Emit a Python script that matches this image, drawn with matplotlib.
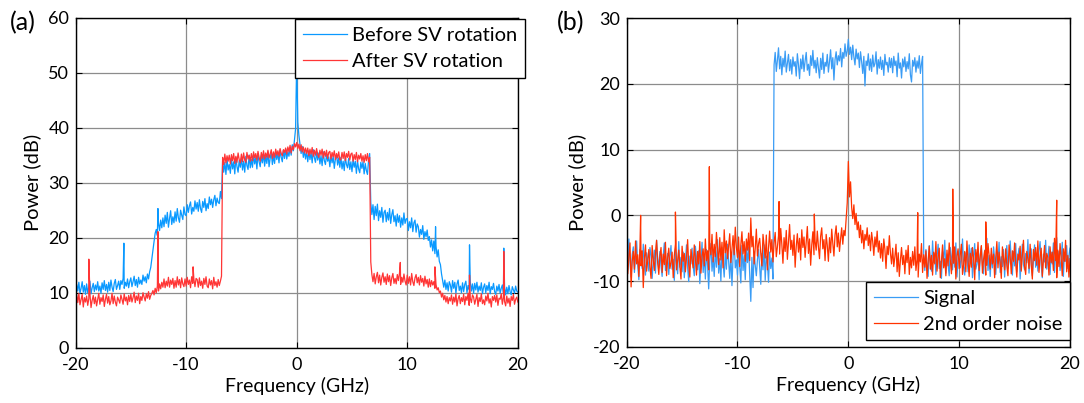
import numpy as np
import matplotlib
matplotlib.use("Agg")
import matplotlib.pyplot as plt

plt.rcParams["font.family"] = ["Lato", "DejaVu Sans"]
plt.rcParams["axes.unicode_minus"] = False

# Frequency grid of the measured spectra (GHz), 0.1 GHz resolution
freq = np.linspace(-20, 20, 401)

# (a) Received spectrum before / after Stokes-vector rotation (dB),
# one row per GHz
before_sv = [
    9.6, 11.5, 10.3, 11.9, 9.9, 10.8, 12.0, 10.1, 11.3, 9.7,
    11.6, 10.0, 11.1, 12.1, 9.8, 10.9, 11.7, 10.2, 11.4, 10.5,
    12.0, 10.3, 11.2, 9.9, 11.8, 10.6, 12.2, 10.4, 11.5, 10.1,
    11.9, 10.4, 12.3, 11.0, 10.2, 11.7, 12.4, 10.6, 11.3, 12.1,
    10.6, 12.2, 11.5, 12.6, 10.8, 11.9, 11.2, 12.5, 10.9, 12.0,
    12.7, 11.1, 12.0, 13.0, 11.3, 12.4, 11.0, 12.8, 11.6, 12.3,
    11.5, 13.2, 12.1, 12.9, 11.8, 13.4, 12.5, 13.8, 14.6, 16.2,
    17.9, 19.3, 20.8, 21.5, 20.4, 22.7, 21.3, 23.2, 21.8, 23.6,
    22.0, 24.1, 22.6, 24.6, 21.9, 23.5, 24.9, 22.4, 23.8, 22.7,
    24.7, 23.0, 25.3, 23.6, 22.8, 25.0, 24.1, 23.3, 25.6, 24.2,
    24.0, 26.0, 24.6, 25.8, 26.5, 24.3, 25.5, 24.8, 26.7, 25.2,
    26.4, 24.8, 26.9, 25.3, 24.6, 26.6, 25.5, 27.1, 24.9, 26.2,
    25.3, 27.4, 26.0, 27.0, 25.5, 26.9, 27.7, 25.8, 27.2, 26.4,
    26.2, 28.4, 27.1, 34.0, 31.9, 33.7, 31.5, 34.4, 32.3, 33.3,
    31.7, 34.3, 32.5, 33.8, 31.6, 34.6, 32.9, 31.9, 34.0, 32.8,
    34.5, 32.3, 33.9, 31.9, 34.8, 33.1, 32.4, 35.0, 32.7, 34.2,
    32.8, 35.1, 33.4, 34.6, 32.5, 35.3, 33.8, 32.9, 34.9, 33.6,
    35.3, 33.0, 34.8, 33.5, 35.6, 32.9, 34.4, 35.5, 33.3, 34.9,
    33.5, 35.7, 34.2, 35.4, 33.6, 36.0, 34.6, 33.8, 35.9, 34.4,
    36.1, 34.3, 35.6, 34.8, 36.4, 35.0, 36.9, 35.8, 37.9, 39.8,
    52.3, 41.0, 38.6, 36.9, 35.3, 36.6, 34.6, 35.9, 34.3, 35.7,
    33.8, 35.8, 34.2, 35.5, 33.6, 36.0, 34.5, 33.7, 35.6, 34.1,
    35.4, 33.4, 34.9, 33.1, 35.6, 34.0, 33.3, 35.2, 33.9, 34.7,
    32.9, 35.0, 33.6, 34.8, 32.6, 34.3, 35.1, 33.2, 34.5, 32.8,
    34.6, 32.5, 33.9, 32.2, 34.7, 33.3, 32.7, 34.4, 32.4, 33.8,
    32.0, 34.2, 32.8, 33.9, 31.7, 34.0, 32.5, 31.8, 33.7, 32.6,
    33.8, 31.6, 33.5, 32.2, 31.5, 34.0, 35.3, 26.4, 24.2, 26.0,
    23.3, 25.7, 24.0, 26.1, 23.1, 24.9, 23.7, 25.5, 22.8, 24.6,
    25.0, 22.9, 24.6, 23.2, 25.3, 22.6, 24.2, 25.1, 22.9, 24.0,
    22.1, 24.3, 22.8, 24.0, 21.9, 23.6, 22.3, 24.5, 22.6, 23.4,
    23.5, 21.3, 22.9, 21.8, 23.6, 21.1, 22.7, 23.2, 21.0, 22.5,
    22.0, 20.1, 21.5, 20.6, 22.2, 19.7, 21.1, 20.2, 21.4, 19.5,
    20.2, 18.3, 19.6, 17.6, 19.4, 17.1, 18.5, 16.5, 17.8, 15.7,
    15.1, 13.4, 12.2, 11.0, 12.3, 10.6, 11.8, 10.3, 12.0, 11.4,
    10.1, 12.2, 10.8, 11.9, 9.9, 11.6, 12.3, 10.4, 11.2, 10.0,
    11.8, 10.2, 11.5, 12.1, 10.0, 11.3, 10.6, 12.0, 10.3, 11.6,
    9.9, 11.7, 10.5, 11.9, 10.1, 11.2, 10.4, 11.8, 9.8, 11.0,
    11.6, 10.0, 11.3, 10.4, 11.9, 9.8, 11.1, 10.6, 11.7, 10.2,
    9.7, 11.2, 10.3, 11.5, 9.9, 10.8, 11.4, 10.0, 11.1, 9.6,
    11.0, 9.8, 11.3, 10.2, 9.6, 11.1, 10.5, 9.9, 11.2, 10.3,
    10.1,
]
after_sv = [
    7.5, 9.6, 8.2, 9.9, 7.8, 8.8, 9.7, 7.4, 9.1, 8.3,
    9.4, 7.7, 8.9, 9.8, 7.3, 8.6, 9.5, 8.0, 9.2, 7.6,
    8.7, 9.9, 7.9, 9.1, 8.4, 9.6, 7.5, 8.8, 9.7, 8.1,
    9.3, 7.8, 8.5, 9.9, 8.0, 9.4, 8.3, 7.6, 9.2, 8.7,
    8.1, 9.6, 8.8, 7.9, 9.8, 8.5, 9.2, 7.8, 9.5, 8.4,
    9.7, 8.3, 9.1, 10.1, 8.2, 9.4, 8.6, 9.9, 8.0, 9.3,
    8.6, 10.0, 9.2, 8.5, 9.8, 9.0, 10.2, 8.8, 9.5, 9.9,
    10.4, 9.6, 10.8, 10.0, 11.2, 10.3, 11.6, 10.7, 11.9, 11.0,
    12.5, 10.9, 12.1, 11.2, 12.8, 11.0, 12.3, 11.5, 12.6, 10.8,
    12.2, 11.0, 12.9, 11.4, 12.4, 10.9, 12.7, 11.6, 11.1, 12.5,
    11.2, 12.8, 11.5, 12.3, 10.9, 12.9, 11.7, 12.5, 11.1, 12.6,
    12.4, 11.0, 12.7, 11.3, 12.1, 10.8, 12.6, 11.5, 12.9, 11.2,
    10.9, 12.5, 11.4, 12.2, 10.7, 12.8, 11.3, 12.0, 11.0, 12.4,
    11.3, 12.1, 13.0, 34.6, 33.3, 35.2, 33.6, 34.9, 33.9, 35.0,
    33.4, 35.1, 34.0, 35.3, 33.5, 34.8, 33.7, 35.4, 34.2, 33.6,
    35.2, 33.8, 35.4, 34.1, 33.7, 35.5, 34.3, 35.0, 33.9, 35.3,
    34.0, 35.6, 34.5, 35.3, 34.1, 35.7, 34.6, 33.9, 35.5, 34.4,
    35.8, 34.3, 35.4, 34.6, 35.9, 34.5, 35.2, 36.0, 34.4, 35.6,
    34.6, 36.1, 35.0, 35.8, 34.8, 36.2, 35.3, 34.9, 36.0, 35.5,
    36.3, 35.2, 36.5, 35.6, 36.8, 35.4, 36.6, 36.0, 37.1, 36.5,
    37.3, 36.2, 37.0, 35.8, 36.9, 35.6, 36.5, 35.4, 36.3, 35.3,
    36.3, 34.9, 36.1, 35.2, 36.4, 34.8, 35.9, 35.0, 36.2, 35.1,
    34.6, 35.9, 35.0, 36.1, 34.5, 35.7, 34.8, 35.9, 34.4, 35.5,
    35.7, 34.3, 35.5, 34.7, 35.8, 34.2, 35.3, 34.5, 35.6, 34.1,
    34.2, 35.5, 34.4, 35.6, 34.0, 35.3, 34.6, 35.7, 34.1, 35.2,
    35.4, 33.9, 35.1, 34.2, 35.5, 33.8, 35.0, 34.3, 35.3, 33.9,
    34.9, 33.7, 35.1, 34.0, 35.3, 33.8, 34.6, 15.6, 13.3, 12.0,
    13.5, 11.6, 12.9, 13.7, 11.8, 13.2, 11.4, 12.8, 13.6, 11.9,
    12.9, 11.5, 13.4, 12.0, 13.1, 11.3, 12.7, 13.5, 11.7, 12.6,
    11.6, 13.3, 12.2, 13.6, 11.5, 12.8, 11.9, 13.4, 12.1, 11.4,
    13.2, 11.7, 12.9, 11.4, 13.5, 12.0, 11.3, 12.7, 13.3, 11.8,
    12.8, 11.4, 13.1, 11.9, 12.6, 11.2, 13.0, 11.6, 12.4, 11.0,
    12.5, 11.1, 12.2, 11.4, 12.0, 10.8, 11.5, 10.5, 10.9, 10.0,
    10.3, 9.2, 9.9, 8.7, 9.5, 8.3, 9.3, 8.0, 9.1, 8.5,
    9.6, 7.9, 9.2, 8.3, 9.8, 7.6, 8.9, 9.5, 8.0, 9.1,
    8.4, 9.7, 7.8, 9.3, 8.6, 9.9, 7.7, 9.0, 8.2, 9.6,
    9.2, 7.9, 8.8, 9.7, 7.5, 9.1, 8.4, 9.8, 8.0, 8.7,
    7.8, 9.4, 8.5, 9.9, 8.1, 8.9, 7.4, 9.3, 8.6, 9.5,
    8.3, 9.6, 7.7, 9.0, 8.8, 9.8, 7.9, 9.2, 8.4, 7.6,
    9.4, 8.1, 9.0, 7.5, 9.3, 8.6, 9.7, 7.9, 8.8, 9.2,
    8.3,
]
# Narrow spurs (GHz, dB)
before_spur_f = [-15.63, -12.55, 12.56, 15.63, 18.73]
before_spur_db = [19.0, 25.3, 22.0, 18.7, 18.1]
after_spur_f = [-18.8, -12.55, -9.37, 9.37, 12.5, 15.63, 18.73]
after_spur_db = [16.1, 21.1, 14.7, 15.5, 14.7, 13.2, 17.5]

# (b) Signal and second-order noise (dB), one row per GHz
signal = [
    -5.9, -8.3, -3.6, -7.1, -9.4, -6.0, -4.8, -8.7, -6.5, -3.9,
    -7.6, -9.8, -5.2, -6.8, -8.1, -4.4, -7.3, -9.1, -5.7, -6.9,
    -8.5, -4.9, -6.2, -9.6, -7.0, -5.3, -8.8, -3.8, -6.6, -8.0,
    -5.5, -7.7, -9.3, -6.1, -4.2, -8.4, -7.2, -5.8, -9.0, -6.3,
    -4.6, -8.2, -6.7, -9.9, -5.1, -7.5, -8.9, -4.0, -7.9, -6.4,
    -8.6, -5.6, -9.5, -6.9, -4.5, -8.0, -10.1, -6.2, -7.4, -5.0,
    -7.8, -9.2, -4.7, -6.5, -8.3, -5.4, -10.4, -7.1, -4.1, -8.7,
    -6.0, -9.7, -5.2, -7.6, -11.2, -6.8, -4.3, -8.5, -6.4, -9.3,
    -5.1, -7.9, -3.7, -8.8, -6.6, -10.0, -4.9, -7.3, -9.4, -5.7,
    -8.2, -4.4, -7.0, -9.6, -5.9, -10.7, -6.3, -3.9, -8.0, -6.8,
    -9.1, -5.3, -7.7, -10.3, -4.6, -8.4, -6.1, -9.8, -5.0, -7.2,
    -4.8, -8.9, -13.1, -6.4, -11.0, -5.5, -7.6, -9.2, -6.7, -5.2,
    -7.9, -10.5, -5.8, -8.3, -4.5, -9.9, -6.2, -7.4, -10.2, -5.6,
    -8.1, -6.5, -9.7, 22.9, 24.8, 21.9, 23.6, 25.5, 22.3, 24.2,
    21.4, 23.9, 22.6, 25.0, 21.8, 23.2, 24.5, 22.0, 23.7, 21.5,
    24.1, 22.7, 23.4, 21.2, 24.6, 22.9, 20.8, 23.8, 22.3, 24.4,
    21.9, 23.5, 24.8, 22.1, 23.0, 21.3, 24.3, 22.8, 25.1, 22.4,
    23.6, 21.7, 24.0, 22.5, 20.9, 23.9, 22.2, 24.7, 21.6, 23.3,
    22.7, 24.5, 21.8, 23.4, 25.2, 22.3, 24.0, 20.6, 23.7, 24.9,
    22.9, 24.3, 23.5, 25.4, 22.6, 24.8, 23.9, 26.1, 24.2, 25.0,
    26.8, 24.5, 25.6, 23.7, 25.9, 24.1, 22.9, 25.3, 23.8, 24.7,
    22.5, 24.9, 23.4, 21.6, 24.2, 19.7, 23.5, 22.8, 24.6, 22.1,
    23.8, 21.9, 24.4, 22.6, 23.1, 24.9, 21.5, 23.7, 22.4, 24.1,
    22.2, 23.6, 21.3, 24.5, 22.9, 23.3, 21.8, 24.0, 22.5, 23.9,
    21.7, 24.2, 22.8, 23.5, 21.1, 24.7, 22.4, 23.2, 20.9, 23.8,
    22.6, 24.1, 21.9, 23.4, 22.3, 24.6, 21.4, 20.3, 23.6, 22.7,
    24.0, 21.8, 23.5, 22.4, 24.3, 21.6, 23.1, 24.2, -6.1, -8.4,
    -5.2, -7.8, -9.3, -4.6, -6.9, -8.5, -3.9, -7.2, -5.8, -9.0,
    -6.3, -4.4, -8.1, -7.0, -9.6, -5.5, -6.7, -3.8, -8.8, -5.9,
    -7.5, -9.2, -4.9, -6.4, -8.3, -5.1, -7.9, -4.2, -9.4, -6.6,
    -5.4, -8.0, -6.8, -3.6, -7.7, -9.1, -5.7, -6.2, -8.6, -4.5,
    -7.1, -5.0, -9.5, -6.5, -4.3, -8.2, -7.4, -5.6, -9.8, -6.0,
    -4.7, -7.6, -8.9, -5.3, -6.9, -3.5, -8.4, -6.1, -9.3, -5.9,
    -8.0, -4.8, -6.6, -9.0, -5.4, -7.3, -4.1, -8.7, -6.3, -7.8,
    -5.2, -9.4, -6.0, -4.6, -8.1, -7.0, -3.9, -6.8, -9.1, -5.5,
    -7.7, -4.3, -8.6, -6.2, -5.0, -9.7, -6.9, -4.4, -7.5, -8.3,
    -5.8, -7.2, -3.7, -8.8, -6.4, -5.1, -9.2, -6.7, -4.5, -7.9,
    -6.1, -8.5, -5.3, -4.0, -7.6, -9.5, -5.9, -7.1, -3.8, -8.2,
    -6.6, -4.7, -9.0, -5.6, -7.4, -4.2, -8.7, -6.0, -3.4, -7.3,
    -5.5, -8.4, -6.9, -4.1, -9.3, -5.8, -7.0, -4.6, -8.1, -6.2,
    -5.0,
]
noise2 = [
    -5.1, -8.9, -6.3, -4.2, -10.9, -7.0, -5.5, -8.2, -3.9, -7.4,
    -6.0, -9.3, -4.8, -7.7, -5.4, -11.0, -6.6, -4.5, -8.5, -6.9,
    -5.2, -7.9, -9.6, -4.6, -6.8, -8.4, -5.7, -3.8, -7.3, -9.0,
    -6.2, -4.9, -8.7, -5.9, -7.5, -4.1, -9.2, -6.5, -5.0, -8.1,
    -7.2, -5.6, -9.5, -6.1, -4.4, -8.3, -6.9, -5.3, -7.8, -9.7,
    -4.7, -7.0, -5.8, -8.6, -6.4, -3.7, -7.6, -9.4, -5.2, -6.7,
    -8.0, -4.5, -6.6, -9.1, -5.5, -7.4, -4.0, -8.8, -6.2, -5.1,
    -7.7, -3.6, -6.9, -5.4, -8.3, -4.8, -6.0, -2.9, -7.1, -4.4,
    -6.3, -2.6, -5.0, -7.5, -3.4, -6.8, -4.1, -8.0, -2.2, -5.7,
    -3.9, -6.6, -4.7, -2.8, -7.2, -5.1, -3.1, -6.0, -1.8, -4.9,
    -6.4, -3.3, -7.8, -4.5, -2.5, -5.9, -4.0, -7.0, -3.6, -5.3,
    -2.7, -6.9, -0.4, -4.8, -3.2, -7.4, -5.0, -2.1, -6.2, -4.3,
    -3.5, -5.8, -7.7, -2.9, -4.6, -6.5, -3.0, -8.3, -4.9, -2.4,
    -5.6, -3.7, -7.1, -4.2, -2.6, -6.3, -4.8, -3.1, -5.9, -2.0,
    -4.4, -7.3, -3.4, -5.5, -2.3, -6.7, -4.0, -1.4, -5.2, -3.8,
    -6.1, -3.0, -7.9, -4.7, -2.8, -5.6, -3.5, -6.8, -2.2, -4.9,
    -3.3, -6.4, -4.1, -1.7, -5.8, -3.6, -7.6, -4.5, -2.5, -6.0,
    -3.9, -5.3, -2.4, -4.8, -6.6, -3.2, -1.9, -5.1, -3.7, -6.9,
    -2.9, -4.6, -7.0, -3.4, -5.7, -2.1, -4.3, -6.2, -3.0, -1.6,
    -4.8, -2.7, -5.5, -3.6, -1.9, -4.4, -2.3, -3.1, -0.6, 1.9,
    8.2, 2.8, 5.1, 1.2, -0.5, 1.6, -1.4, 0.3, -2.2, -1.0,
    -3.4, -1.5, -4.2, -2.3, -5.1, -2.9, -3.8, -1.9, -4.6, -3.0,
    -5.4, -2.6, -4.0, -6.1, -3.3, -4.8, -2.4, -5.6, -3.9, -6.5,
    -4.3, -7.0, -3.6, -5.2, -8.1, -4.7, -6.0, -3.1, -5.8, -7.4,
    -5.0, -7.8, -6.3, -4.4, -8.6, -5.7, -9.3, -6.8, -4.9, -7.5,
    -6.1, -8.9, -5.3, -7.2, -4.6, -9.0, -6.4, -8.0, -5.5, -7.6,
    -4.8, -8.4, -6.7, -9.4, -5.9, -7.1, -4.3, -8.7, -6.0, -7.9,
    -5.4, -9.6, -6.9, -4.7, -8.2, -6.1, -9.1, -5.6, -7.4, -4.0,
    -8.5, -6.3, -5.0, -9.5, -7.0, -4.5, -8.0, -6.6, -9.2, -5.3,
    -7.7, -4.2, -6.8, -8.9, -5.7, -7.3, -4.8, -9.7, -6.2, -5.1,
    -8.1, -6.0, -4.4, -9.0, -7.5, -5.5, -8.6, -3.9, -6.9, -9.3,
    -5.8, -7.9, -4.9, -6.5, -9.8, -5.2, -7.1, -4.1, -8.4, -6.3,
    -4.6, -8.8, -6.7, -5.4, -9.1, -7.6, -4.3, -6.1, -8.2, -5.0,
    -7.4, -5.9, -9.5, -6.4, -4.0, -8.0, -5.6, -7.2, -9.6, -4.8,
    -6.6, -8.3, -5.1, -7.7, -9.2, -4.5, -6.2, -8.9, -5.4, -7.0,
    -4.2, -7.3, -9.4, -5.9, -6.8, -4.7, -8.5, -6.0, -3.8, -7.8,
    -9.0, -5.5, -6.6, -8.1, -4.4, -7.5, -9.7, -5.2, -6.9, -4.9,
    -7.6, -3.9, -8.7, -6.3, -5.0, -9.3, -6.7, -4.6, -8.0, -5.8,
    -6.4, -9.1, -4.8, -7.2, -5.6, -8.4, -3.5, -6.9, -9.5, -5.3,
    -7.8, -4.3, -6.5, -9.2, -5.1, -7.0, -3.8, -8.6, -6.1, -9.4,
    -6.6,
]
noise2_spur_f = [-18.74, -15.6, -12.54, -6.25, -3.07, 6.26, 9.42, 12.4, 18.8]
noise2_spur_db = [0.0, 0.5, 7.4, 2.1, 0.2, 0.4, 4.0, -1.0, 2.3]

x_ticks = [-20, -10, 0, 10, 20]
a_yticks = [0, 10, 20, 30, 40, 50, 60]
b_yticks = [-20, -10, 0, 10, 20, 30]


def with_spurs(f, v, sf=(), sv=()):
    f = np.asarray(f, float)
    v = np.asarray(v, float)
    assert len(f) == len(v), (len(f), len(v))
    x = np.concatenate([f, np.asarray(sf, float)])
    y = np.concatenate([v, np.asarray(sv, float)])
    order = np.argsort(x, kind="stable")
    return x[order], y[order]


def style(ax, yticks):
    ax.set_xlim(-20, 20)
    ax.set_ylim(yticks[0], yticks[-1])
    ax.set_xticks(x_ticks)
    ax.set_yticks(yticks)
    ax.grid(True, color="#8c8c8c", lw=0.9)
    ax.set_axisbelow(True)
    ax.tick_params(direction="in", top=True, right=True, length=4,
                   width=0.8, labelsize=13)
    ax.tick_params(axis="x", pad=6.5)
    ax.tick_params(axis="y", pad=4.5)
    for s in ax.spines.values():
        s.set_linewidth(1.0)
        s.set_color("black")
    ax.set_xlabel("Frequency (GHz)", fontsize=14, labelpad=3)
    ax.set_ylabel("Power (dB)", fontsize=14.5, labelpad=5)


def framed_legend(ax, loc, anchor):
    leg = ax.legend(loc=loc, bbox_to_anchor=anchor, fontsize=14.5,
                    frameon=True, fancybox=False, framealpha=1,
                    edgecolor="black", borderaxespad=0,
                    handlelength=2.2, handletextpad=0.25, labelspacing=0.45,
                    borderpad=0.38)
    leg.get_frame().set_linewidth(1.0)
    return leg


fig = plt.figure(figsize=(10.84, 4.03), dpi=100)
ax1 = fig.add_axes([0.0697, 0.1372, 0.408, 0.819])
ax2 = fig.add_axes([0.5781, 0.1397, 0.409, 0.815])

x, y = with_spurs(freq, before_sv, before_spur_f, before_spur_db)
ax1.plot(x, y, color="#0a99ff", lw=0.9, label="Before SV rotation")
x, y = with_spurs(freq, after_sv, after_spur_f, after_spur_db)
ax1.plot(x, y, color="#ff3535", lw=0.9, label="After SV rotation")
style(ax1, a_yticks)
framed_legend(ax1, "upper right", (1.016, 0.996))

x, y = with_spurs(freq, signal)
ax2.plot(x, y, color="#3a9cf5", lw=0.9, label="Signal")
x, y = with_spurs(freq, noise2, noise2_spur_f, noise2_spur_db)
ax2.plot(x, y, color="#ff3300", lw=0.9, label="2nd order noise")
style(ax2, b_yticks)
framed_legend(ax2, "lower right", (1.0, 0.019))

fig.text(0.009, 0.945, "(a)", fontsize=18, va="center", ha="left")
fig.text(0.514, 0.945, "(b)", fontsize=18, va="center", ha="left")

fig.savefig("out.png", dpi=100)
